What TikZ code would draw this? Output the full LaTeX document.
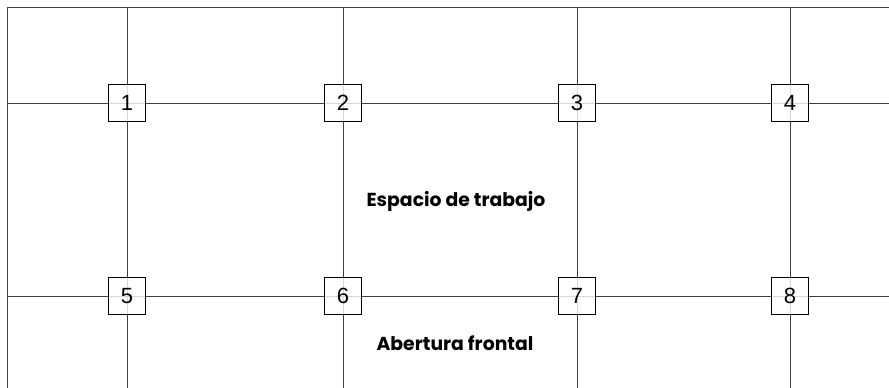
\documentclass[tikz,border=0pt]{standalone}
\usepackage{fontspec}
\setmainfont{Liberation Sans}
\newfontfamily\labfont{Poppins}
\begin{document}
\begin{tikzpicture}[x=1pt,y=-1pt,
  gridline/.style={draw=black!75,line width=0.8pt},
  numbox/.style={draw=black,line width=1pt,fill=white,fill opacity=0.8,text opacity=1,
    minimum width=37pt,minimum height=37pt,inner sep=0pt,font=\fontsize{22}{22}\selectfont},
  area/.style={font=\labfont\bfseries\fontsize{18.8}{19}\selectfont}]
\useasboundingbox (0,0) rectangle (889,388);
% frame corners
\coordinate (tl) at (7,7);
\coordinate (tr) at (889,7);
\coordinate (bl) at (7,388);
% vertical line ends
\foreach \i/\x in {a/127,b/343,c/577,d/790}{
  \coordinate (\i top) at (\x,7);
  \coordinate (\i bot) at (\x,388);
}
% horizontal line ends
\coordinate (r1l) at (7,103);  \coordinate (r1r) at (889,103);
\coordinate (r2l) at (7,296);  \coordinate (r2r) at (889,296);
\draw[gridline] (bl) -- (tl) -- (tr);
\foreach \i in {a,b,c,d}{\draw[gridline] (\i top) -- (\i bot);}
\draw[gridline] (r1l) -- (r1r);
\draw[gridline] (r2l) -- (r2r);
% boxes
\node[numbox] (n1) at (127,103) {1};
\node[numbox] (n2) at (343,103) {2};
\node[numbox] (n3) at (577,103) {3};
\node[numbox] (n4) at (790,103) {4};
\node[numbox] (n5) at (127,296) {5};
\node[numbox] (n6) at (343,296) {6};
\node[numbox] (n7) at (577,296) {7};
\node[numbox] (n8) at (790,296) {8};
\node[area] (ws) at (456,201) {Espacio de trabajo};
\node[area] (fo) at (455,343) {Abertura frontal};
\end{tikzpicture}
\end{document}
